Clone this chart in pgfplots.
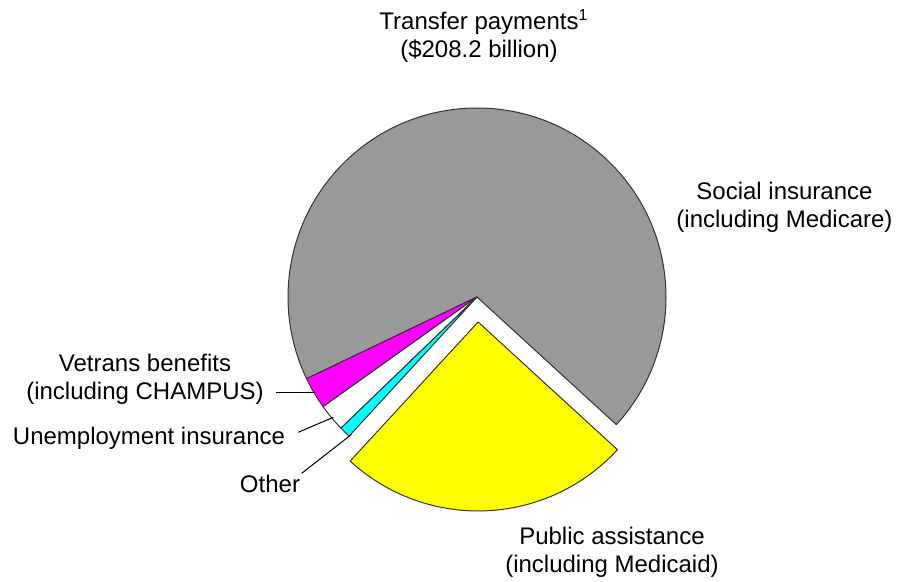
\documentclass[border=0pt]{standalone}
\usepackage{fontspec}
\setmainfont{Liberation Sans}
\usepackage{pgfplots}
\usepackage{pgfplotstable}
\pgfplotsset{compat=1.18}
\definecolor{piegray}{RGB}{153,153,153}
\definecolor{piemagenta}{RGB}{255,0,255}
\definecolor{piecyan}{RGB}{0,255,255}
\definecolor{pieyellow}{RGB}{255,255,0}

% transfer payments, billions of dollars
\pgfplotstableread{
name value fill explode
Social 143.5 piegray 0
Veterans 5.7 piemagenta 0
Unemployment 4.9 white 0
Other 2.0 piecyan 0
Public 52.1 pieyellow 25
}\piedata

\tikzset{lbl/.style={font=\fontsize{12}{14}\selectfont, align=center, inner sep=0pt}}

\begin{document}
\begin{tikzpicture}
\begin{axis}[
  x=0.5pt, y=0.5pt,
  xmin=0, xmax=898, ymin=0, ymax=582,
  hide axis, clip=false
]
\addplot[draw=none] coordinates {(0,0) (898,582)};

\def\cx{477}\def\cy{285}\def\rr{189}\def\total{208.2}
\gdef\cumul{-42.5}
\pgfplotsinvokeforeach{0,...,4}{
  \pgfplotstablegetelem{#1}{value}\of\piedata \let\v\pgfplotsretval
  \pgfplotstablegetelem{#1}{fill}\of\piedata \let\c\pgfplotsretval
  \pgfplotstablegetelem{#1}{explode}\of\piedata \let\ex\pgfplotsretval
  \pgfmathsetmacro\a{\cumul}
  \pgfmathsetmacro\b{\cumul+\v/\total*360}
  \pgfmathsetmacro\m{(\a+\b)/2}
  \pgfmathsetmacro\ox{\cx+\ex*cos(\m)}
  \pgfmathsetmacro\oy{\cy+\ex*sin(\m)}
  \pgfmathsetmacro\px{\ox+\rr*cos(\a)}
  \pgfmathsetmacro\py{\oy+\rr*sin(\a)}
  \edef\temp{\noexpand\filldraw[fill=\c, draw=black!80, line width=0.5pt, line join=round]
    (axis cs:\ox,\oy) -- (axis cs:\px,\py)
    arc[start angle=\a, end angle=\b, radius=94.5pt] -- cycle;}
  \temp
  \xdef\cumul{\b}
}

% leader lines
\draw[line width=0.5pt] (axis cs:276,189.3) -- (axis cs:315,189.3);
\draw[line width=0.5pt] (axis cs:298.3,149.7) -- (axis cs:333.3,164.7);
\draw[line width=0.5pt] (axis cs:301.7,108.7) -- (axis cs:351.7,147.7);

% labels
\node[lbl] at (axis cs:479,546) {Transfer payments\rlap{\textsuperscript{1}}\\(\$208.2 billion)};
\node[lbl] at (axis cs:784.5,374.5) {Social insurance\\(including Medicare)};
\node[lbl] at (axis cs:145,203) {Vetrans benefits\\(including CHAMPUS)};
\node[lbl] at (axis cs:149,144) {Unemployment insurance};
\node[lbl] at (axis cs:270,98) {Other};
\node[lbl] at (axis cs:612,30) {Public assistance\\(including Medicaid)};
\end{axis}
\end{tikzpicture}
\end{document}
